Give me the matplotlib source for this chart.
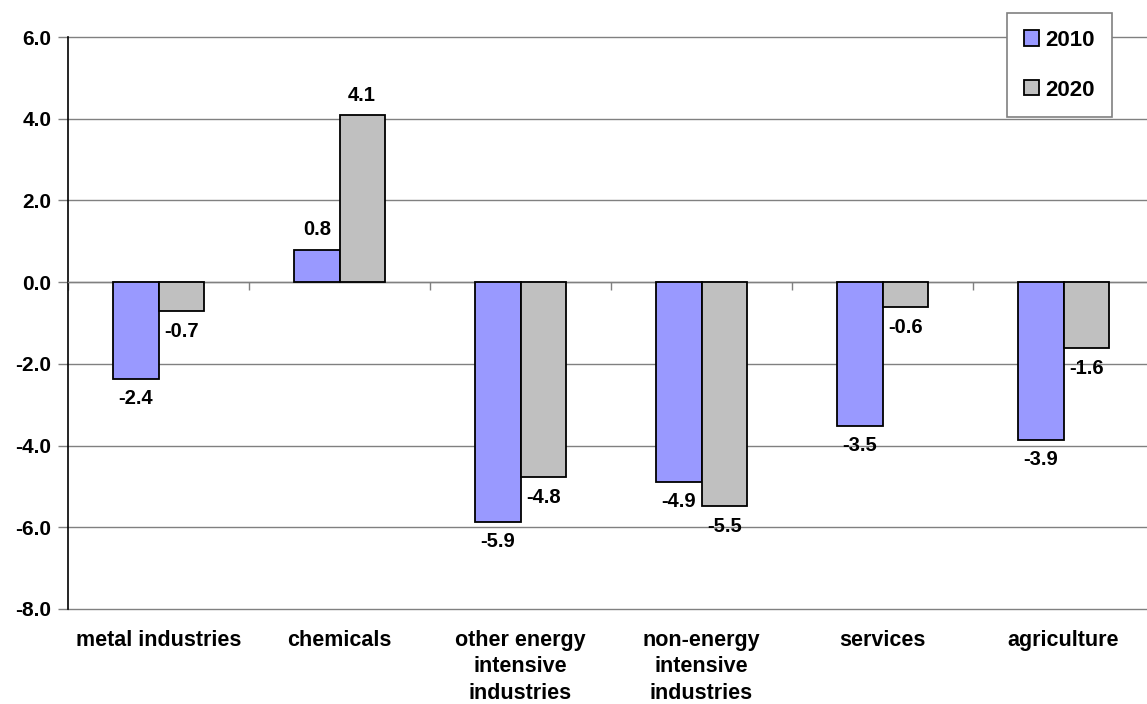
import matplotlib
matplotlib.use("Agg")
import matplotlib.pyplot as plt
import matplotlib.transforms as mtransforms
import numpy as np

categories = ["metal industries", "chemicals", "other energy\nintensive\nindustries",
              "non-energy\nintensive\nindustries", "services", "agriculture"]
series_names = ["2010", "2020"]
values_2010 = [-2.36, 0.79, -5.87, -4.88, -3.52, -3.86]
values_2020 = [-0.71, 4.09, -4.78, -5.48, -0.61, -1.62]
y_ticks = [-8.0, -6.0, -4.0, -2.0, 0.0, 2.0, 4.0, 6.0]

colors = ["#9999FF", "#C0C0C0"]

plt.rcParams["font.family"] = ["Liberation Sans", "DejaVu Sans"]
plt.rcParams["font.weight"] = "bold"

fig = plt.figure(figsize=(11.47, 7.04), dpi=100)
W, H = 1147, 704
ax = fig.add_axes([68 / W, 1 - 609 / H, (1154 - 68) / W, (609 - 37) / H])

x = np.arange(len(categories))
width = 0.25
for k, (vals, col, name) in enumerate(zip([values_2010, values_2020], colors, series_names)):
    b = ax.bar(x + (k - 0.5) * width, vals, width, color=col, edgecolor="black",
               linewidth=1.3, label=name, zorder=3)
    for rect, v in zip(b, vals):
        cx = rect.get_x() + rect.get_width() / 2
        off = 20 if v >= 0 else -20
        ax.annotate(f"{v:.1f}", (cx, v), xytext=(0, off), textcoords="offset pixels",
                    ha="center", va="center", fontsize=14.5, fontweight="bold", zorder=4)

ax.set_xlim(-0.5, len(categories) - 0.5)
ax.set_ylim(y_ticks[0], y_ticks[-1])
ax.set_yticks(y_ticks)
ax.set_yticklabels([f"{t:.1f}" for t in y_ticks], fontsize=15, fontweight="bold")
ax.yaxis.grid(True, color="#808080", linewidth=1, zorder=0)
for gl in ax.get_ygridlines():
    gl.set_clip_on(False)
ax.set_axisbelow(True)

for s in ["top", "right"]:
    ax.spines[s].set_visible(False)
ax.spines["left"].set_color("black")
ax.spines["left"].set_linewidth(1.2)
ax.spines["bottom"].set_position(("data", 0))
ax.spines["bottom"].set_color("#808080")
ax.spines["bottom"].set_linewidth(1)

ax.tick_params(axis="y", direction="out", length=7, width=1, color="#808080", pad=5)
ax.set_xticks(np.arange(len(categories) + 1) - 0.5)
ax.set_xticklabels([])
ax.tick_params(axis="x", direction="out", length=6, width=1, color="#808080")

trans = mtransforms.blended_transform_factory(ax.transData, ax.transAxes)
for xi, cat in zip(x, categories):
    ax.text(xi, -0.036, cat, transform=trans, ha="center", va="top",
            fontsize=15.5, fontweight="bold", linespacing=1.36)

leg = ax.legend(loc="upper left", bbox_to_anchor=(1007 / W, 1 - 13 / H),
                bbox_transform=fig.transFigure, borderaxespad=0, fontsize=16,
                handlelength=0.68, handleheight=0.68, handletextpad=0.3,
                labelspacing=1.3, borderpad=0.75, fancybox=False, framealpha=1,
                edgecolor="#808080")
leg.get_frame().set_linewidth(1.2)
for t in leg.get_texts():
    t.set_fontweight("bold")

fig.savefig("out.png", dpi=100)
